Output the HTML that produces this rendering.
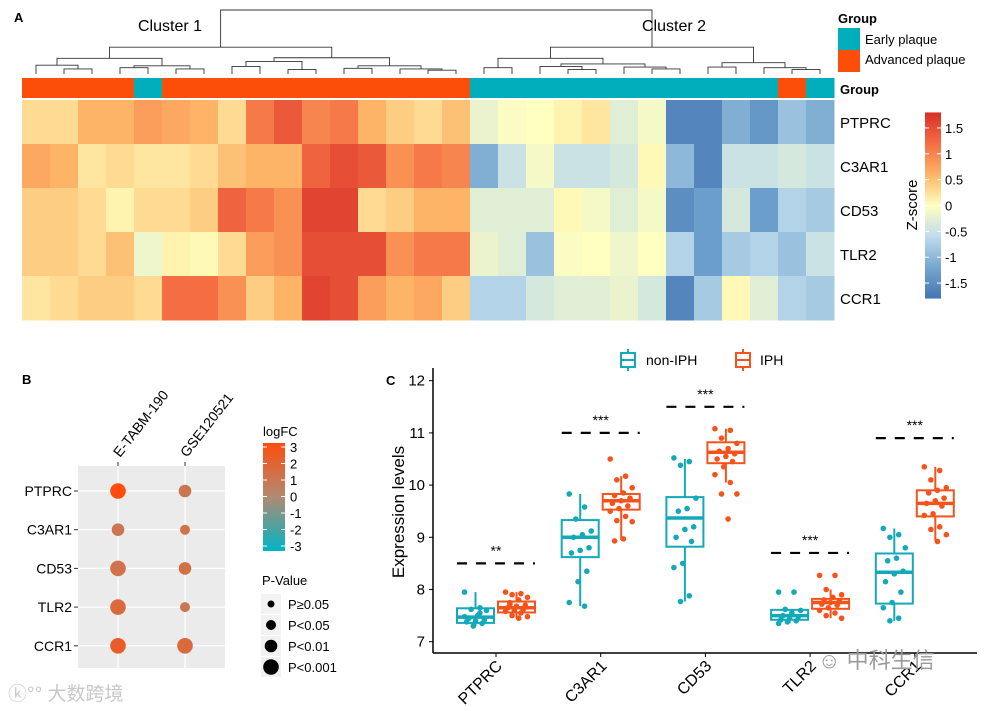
<!DOCTYPE html>
<html><head><meta charset="utf-8"><style>
body{margin:0;background:#fff;}
svg{display:block;font-family:"Liberation Sans",Arial,sans-serif;}
</style></head><body>
<svg id="fig" width="984" height="711" viewBox="0 0 984 711" xmlns="http://www.w3.org/2000/svg">
<g id="A"></g>
<g id="B"></g>
<g id="C"></g>
</svg>
<script>
// ---------- Panel A data ----------
const genes = ["PTPRC","C3AR1","CD53","TLR2","CCR1"];
const groups = [1,1,1,1,0,1,1,1,1,1,1,1,1,1,1,1,0,0,0,0,0,0,0,0,0,0,0,1,0];
const zPTPRC = [0.3,0.3,0.6,0.6,0.8,0.7,0.6,0.3,1.1,1.4,1.0,1.1,0.6,0.4,0.3,0.5,-0.2,-0.05,0,0.1,0.2,-0.3,-0.1,-1.6,-1.6,-1.1,-1.4,-0.9,-1.1];
const zC3AR1 = [0.7,0.6,0.2,0.3,0.2,0.2,0.3,0.5,0.6,0.6,1.3,1.5,1.4,0.9,1.1,1.0,-1.1,-0.5,-0.1,-0.5,-0.5,-0.4,0.05,-1.0,-1.6,-0.5,-0.5,-0.4,-0.5];
const zCD53 = [0.4,0.4,0.3,0.1,0.3,0.3,0.4,1.3,1.1,0.9,1.6,1.6,0.3,0.4,0.6,0.6,-0.3,-0.3,-0.3,0.05,-0.1,-0.3,-0.1,-1.5,-1.3,-0.4,-1.3,-0.7,-0.8];
const zTLR2 = [0.4,0.4,0.3,0.5,-0.15,0.1,0.05,0.3,0.8,0.9,1.5,1.5,1.5,0.9,1.1,1.1,-0.2,-0.3,-0.9,-0.05,0,-0.15,0,-0.7,-1.3,-0.8,-0.7,-0.9,-0.5];
const zCCR1 = [0.2,0.3,0.4,0.4,0.3,1.2,1.2,0.9,0.4,0.6,1.6,1.5,0.8,0.6,0.7,0.4,-0.7,-0.7,-0.4,-0.3,-0.3,-0.2,-0.4,-1.6,-0.8,0.05,-0.3,-0.7,-0.8];
const zRows = [zPTPRC,zC3AR1,zCD53,zTLR2,zCCR1];
const zTicks = [1.5,1,0.5,0,-0.5,-1,-1.5];
const tree = [
 [[[0,[1,2,0.5],1.1],[[3,4,0.7],[5,6,0.5],1.0],2.2],
  [[[7,8,0.9],[9,10,0.4],1.7],[[11,12,0.6],[13,[14,15,0.3],0.5],1.0],2.3],4.0],
 [[[16,17,0.7],[[18,[19,20,0.4],0.9],[21,[22,23,0.5],0.8],1.3],2.2],
  [[24,25,0.8],[26,[27,28,0.4],0.7],1.5],4.0],10];

// ---------- Panel B data ----------
const bGenes = ["PTPRC","C3AR1","CD53","TLR2","CCR1"];
const bDatasets = ["E-TABM-190","GSE120521"];
const logfcE = [3,1,1.2,1.6,2.2];
const logfcG = [1,1.2,1.3,1,1.6];
const pcatE = [3,2,3,3,3];
const pcatG = [2,1,2,1,3];
const pLabels = ["P\u22650.05","P<0.05","P<0.01","P<0.001"];
const fcTicks = [3,2,1,0,-1,-2,-3];

// ---------- Panel C data ----------
const cGenes = ["PTPRC","C3AR1","CD53","TLR2","CCR1"];
const yTicks = [7,8,9,10,11,12];
const nonQ1 = [7.36,8.62,8.82,7.42,7.73];
const nonMed = [7.47,9.0,9.37,7.5,8.33];
const nonQ3 = [7.64,9.33,9.77,7.61,8.69];
const nonLo = [7.3,7.68,7.77,7.35,7.4];
const nonHi = [7.95,9.83,10.5,7.62,9.17];
const iphQ1 = [7.56,9.53,10.42,7.63,9.4];
const iphMed = [7.65,9.7,10.63,7.75,9.65];
const iphQ3 = [7.77,9.83,10.82,7.82,9.9];
const iphLo = [7.45,8.95,10.05,7.45,8.93];
const iphHi = [7.95,10.17,11.08,8.0,10.35];
const sigY = [8.5,11.0,11.5,8.7,10.9];
const sigLabel = ["**","***","***","***","***"];
const ptsNon = [
 [7.95,7.65,7.62,7.6,7.5,7.45,7.42,7.4,7.38,7.35,7.3,7.48,7.55],
 [9.83,9.58,9.35,9.12,9.05,9.0,8.8,8.75,8.7,8.35,8.15,7.75,7.68],
 [10.52,10.45,10.38,9.75,9.55,9.5,9.2,9.15,9.0,8.92,8.5,8.42,7.88,7.77],
 [7.95,7.95,7.62,7.6,7.55,7.5,7.48,7.45,7.42,7.4,7.38,7.35],
 [9.17,9.05,9.0,8.8,8.6,8.55,8.35,8.3,8.15,7.95,7.75,7.65,7.45,7.4]];
const ptsIph = [
 [7.95,7.92,7.9,7.85,7.8,7.75,7.7,7.68,7.65,7.62,7.6,7.58,7.55,7.5,7.48,7.45,7.72,7.66],
 [10.5,10.17,10.1,9.95,9.85,9.8,9.75,9.7,9.65,9.6,9.55,9.5,9.4,9.32,9.3,8.97,8.93],
 [11.08,11.05,10.9,10.8,10.7,10.65,10.6,10.55,10.5,10.45,10.35,10.2,10.05,9.83,9.83,9.35],
 [8.27,8.27,8.0,7.9,7.85,7.8,7.78,7.75,7.72,7.7,7.65,7.6,7.55,7.5,7.45],
 [10.35,10.28,10.1,9.95,9.9,9.85,9.75,9.7,9.65,9.6,9.45,9.42,9.2,9.15,9.05,8.92]];

const NS="http://www.w3.org/2000/svg";
function mk(parent,tag,attrs,text){const e=document.createElementNS(NS,tag);for(const k in attrs)e.setAttribute(k,attrs[k]);if(text!==undefined)e.textContent=text;parent.appendChild(e);return e;}
function hex(c){return [parseInt(c.slice(1,3),16),parseInt(c.slice(3,5),16),parseInt(c.slice(5,7),16)];}
function interp(stops,v){if(v<=stops[0][0])return stops[0][1];if(v>=stops[stops.length-1][0])return stops[stops.length-1][1];
 for(let i=0;i<stops.length-1;i++){const a=stops[i],b=stops[i+1];if(v>=a[0]&&v<=b[0]){const t=(v-a[0])/(b[0]-a[0]);const ca=hex(a[1]),cb=hex(b[1]);return "rgb("+ca.map((x,j)=>Math.round(x+(cb[j]-x)*t)).join(",")+")";}}}
const zStops=[[-1.8,"#4575b4"],[-1.2,"#74a6cf"],[-0.6,"#c0dced"],[0,"#ffffbf"],[0.6,"#fdb466"],[1.2,"#f46d43"],[1.8,"#d73027"]];
const fcStops=[[-3,"#00b5c5"],[0,"#b08a72"],[3,"#ff4d0d"]];

// ================= Panel A =================
const A=document.getElementById('A');
let t=mk(A,'text',{x:14,y:22,'font-size':13,'font-weight':'bold'},'A');


const hx0=22,cw=28,hy0=100,rh=44;
const colX=i=>hx0+cw*i;
const zY=v=>205.5-v*51.7;
groups.forEach((g,i)=>{const r=mk(A,'rect',{x:colX(i),y:78,width:cw+0.5,height:20,fill:g?"#fc4e08":"#00aebb"});
 
 });
zRows.forEach((row,ri)=>{row.forEach((v,ci)=>{const r=mk(A,'rect',{x:colX(ci),y:hy0+ri*rh,width:cw+0.5,height:rh+0.5,fill:interp(zStops,v)});
 
 });
 const l=mk(A,'text',{x:840,y:hy0+ri*rh+rh/2+6,'font-size':15},genes[ri]);
 
 });
const dY=h=>72-h*6.2;
function drawNode(n){if(typeof n==='number')return {x:colX(n)+cw/2,y:74};
 const a=drawNode(n[0]),b=drawNode(n[1]),y=dY(n[2]);
 const p=mk(A,'path',{d:`M${a.x},${a.y}V${y}H${b.x}V${b.y}`,fill:'none',stroke:'#333','stroke-width':0.9});
 
 
 return {x:(a.x+b.x)/2,y:y};}
drawNode(tree);
t=mk(A,'text',{x:138,y:31,'font-size':16},'Cluster 1');


t=mk(A,'text',{x:642,y:31,'font-size':16},'Cluster 2');


t=mk(A,'text',{x:838,y:23,'font-size':13,'font-weight':'bold'},'Group');


let r=mk(A,'rect',{x:838,y:28,width:22,height:22,fill:'#00aebb'});


r=mk(A,'rect',{x:838,y:50,width:22,height:22,fill:'#fc4e08'});


t=mk(A,'text',{x:865,y:44,'font-size':13},'Early plaque');


t=mk(A,'text',{x:865,y:64,'font-size':13},'Advanced plaque');


t=mk(A,'text',{x:840,y:94,'font-size':13,'font-weight':'bold'},'Group');


const defs=mk(document.getElementById('fig'),'defs',{});
const lg=mk(defs,'linearGradient',{id:'zg',x1:0,y1:1,x2:0,y2:0});
zStops.forEach(s=>mk(lg,'stop',{offset:((s[0]+1.8)/3.6),'stop-color':s[1]}));
r=mk(A,'rect',{x:925,y:zY(1.8),width:16,height:zY(-1.8)-zY(1.8),fill:'url(#zg)'});


zTicks.forEach(v=>{mk(A,'line',{x1:925,x2:929,y1:zY(v),y2:zY(v),stroke:'#fff'});mk(A,'line',{x1:937,x2:941,y1:zY(v),y2:zY(v),stroke:'#fff'});
 const l=mk(A,'text',{x:945,y:zY(v)+5,'font-size':13},String(v));
 
 });
t=mk(A,'text',{x:917,y:205,'font-size':15,'text-anchor':'middle',transform:'rotate(-90 917 205)'},'Z-score');



// ================= Panel B =================
const B=document.getElementById('B');
t=mk(B,'text',{x:22,y:384,'font-size':13,'font-weight':'bold'},'B');


r=mk(B,'rect',{x:78,y:466,width:147,height:202,fill:'#ebebeb'});


const bColX=[118,185];
const bRowY=i=>491+i*38.7;
const pR=[3.5,5,6.3,7.8];
bColX.forEach(x=>mk(B,'line',{x1:x,x2:x,y1:466,y2:668,stroke:'#fff','stroke-width':1.2}));
bGenes.forEach((g,i)=>{mk(B,'line',{x1:78,x2:225,y1:bRowY(i),y2:bRowY(i),stroke:'#fff','stroke-width':1.2});
 mk(B,'line',{x1:74,x2:78,y1:bRowY(i),y2:bRowY(i),stroke:'#333'});
 const l=mk(B,'text',{x:72,y:bRowY(i)+5,'font-size':14,'text-anchor':'end'},g);
 
 });
bDatasets.forEach((d,j)=>{mk(B,'line',{x1:bColX[j],x2:bColX[j],y1:462,y2:466,stroke:'#333'});
 const l=mk(B,'text',{x:bColX[j]+2,y:458,'font-size':14,transform:`rotate(-52 ${bColX[j]+2} 458)`},d);
 
 });
[[logfcE,pcatE],[logfcG,pcatG]].forEach((s,j)=>{s[0].forEach((v,i)=>{
 const c=mk(B,'circle',{cx:bColX[j],cy:bRowY(i),r:pR[s[1][i]],fill:interp(fcStops,v)});
 
 });});
t=mk(B,'text',{x:263,y:436,'font-size':13},'logFC');


const lg2=mk(defs,'linearGradient',{id:'fg',x1:0,y1:1,x2:0,y2:0});
fcStops.forEach(s=>mk(lg2,'stop',{offset:(s[0]+3)/6,'stop-color':s[1]}));
r=mk(B,'rect',{x:263,y:443,width:22,height:108,fill:'url(#fg)'});


fcTicks.forEach(v=>{const y=546-(v+3)*16.5;
 mk(B,'line',{x1:263,x2:267,y1:y,y2:y,stroke:'#fff'});mk(B,'line',{x1:281,x2:285,y1:y,y2:y,stroke:'#fff'});
 const l=mk(B,'text',{x:290,y:y+5,'font-size':13},String(v));
 
 });
t=mk(B,'text',{x:262,y:585,'font-size':13},'P-Value');


pLabels.forEach((p,i)=>{const y=604+i*21;
 mk(B,'rect',{x:261,y:y-10,width:20,height:20,fill:'#f2f2f2'});
 const c=mk(B,'circle',{cx:271,cy:y,r:pR[i],fill:'#000'});
 
 
 const l=mk(B,'text',{x:288,y:y+5,'font-size':13},p);
 
 });
t=mk(B,'text',{x:8,y:700,'font-size':19,fill:'#c8c8c8','font-family':'"Liberation Sans","Noto Sans CJK SC",sans-serif'},'\u24DA\u00B0\u00B0 大数跨境');



// ================= Panel C =================
const C=document.getElementById('C');
const yS=v=>641.7-(v-7)*52.2;
const catX=i=>496+i*104.7;
const dodge=20.5,bw=37;
const axY=653;
t=mk(C,'text',{x:386,y:385,'font-size':13,'font-weight':'bold'},'C');


mk(C,'line',{x1:433,x2:433,y1:368,y2:axY,stroke:'#000','stroke-width':1.5});
mk(C,'line',{x1:433,x2:977,y1:axY,y2:axY,stroke:'#000','stroke-width':1.5});
yTicks.forEach(v=>{mk(C,'line',{x1:429,x2:433,y1:yS(v),y2:yS(v),stroke:'#000'});
 const l=mk(C,'text',{x:425,y:yS(v)+5,'font-size':15,'text-anchor':'end'},String(v));
 
 });
t=mk(C,'text',{x:404,y:512,'font-size':17,'text-anchor':'middle',transform:'rotate(-90 404 512)'},'Expression levels');


const cols=["#14a9b8","#f4541c"];
function box(i,off,q1,md,q3,lo,hi,col,pts,name){
 const cx=catX(i)+off,g=mk(C,'g',{});
 
 
 mk(g,'line',{x1:cx,x2:cx,y1:yS(hi),y2:yS(q3),stroke:col,'stroke-width':2});
 mk(g,'line',{x1:cx,x2:cx,y1:yS(q1),y2:yS(lo),stroke:col,'stroke-width':2});
 mk(g,'rect',{x:cx-bw/2,y:yS(q3),width:bw,height:yS(q1)-yS(q3),fill:'#fff',stroke:col,'stroke-width':2});
 mk(g,'line',{x1:cx-bw/2,x2:cx+bw/2,y1:yS(md),y2:yS(md),stroke:col,'stroke-width':3.5});
 pts.forEach((v,k)=>{const c=mk(g,'circle',{cx:cx+(((k*7)%11)-5)*2.2,cy:yS(v),r:2.8,fill:col});
  
  });
}
cGenes.forEach((gname,i)=>{
 box(i,-dodge,nonQ1[i],nonMed[i],nonQ3[i],nonLo[i],nonHi[i],cols[0],ptsNon[i],'box-non-iph-'+gname.toLowerCase());
 box(i,dodge,iphQ1[i],iphMed[i],iphQ3[i],iphLo[i],iphHi[i],cols[1],ptsIph[i],'box-iph-'+gname.toLowerCase());
 const sl=mk(C,'line',{x1:catX(i)-dodge-bw/2,x2:catX(i)+dodge+bw/2,y1:yS(sigY[i]),y2:yS(sigY[i]),stroke:'#000','stroke-width':2.2,'stroke-dasharray':'10,9'});
 
 
 const st=mk(C,'text',{x:catX(i),y:yS(sigY[i])-8,'font-size':14,'text-anchor':'middle'},sigLabel[i]);
 
 
 mk(C,'line',{x1:catX(i),x2:catX(i),y1:axY,y2:axY+4,stroke:'#000'});
 const xl=mk(C,'text',{x:catX(i)+7,y:axY+14,'font-size':16,'text-anchor':'end',transform:`rotate(-45 ${catX(i)+7} ${axY+14})`},gname);
 
 
});
[["non-IPH",628,646],["IPH",743,760]].forEach((L,k)=>{const g=mk(C,'g',{});
 
 
 mk(g,'line',{x1:L[1],x2:L[1],y1:349,y2:371,stroke:cols[k],'stroke-width':2});
 mk(g,'rect',{x:L[1]-7,y:353,width:14,height:14,fill:'#fff',stroke:cols[k],'stroke-width':2});
 mk(g,'line',{x1:L[1]-7,x2:L[1]+7,y1:360,y2:360,stroke:cols[k],'stroke-width':2});
 mk(g,'text',{x:L[2],y:365,'font-size':14},L[0]);});
t=mk(C,'text',{x:818,y:668,'font-size':22,fill:'#9a9a9a','font-family':'"Liberation Sans","Noto Sans CJK SC",sans-serif'},'\u263A 中科生信');


</script>
</body></html>
